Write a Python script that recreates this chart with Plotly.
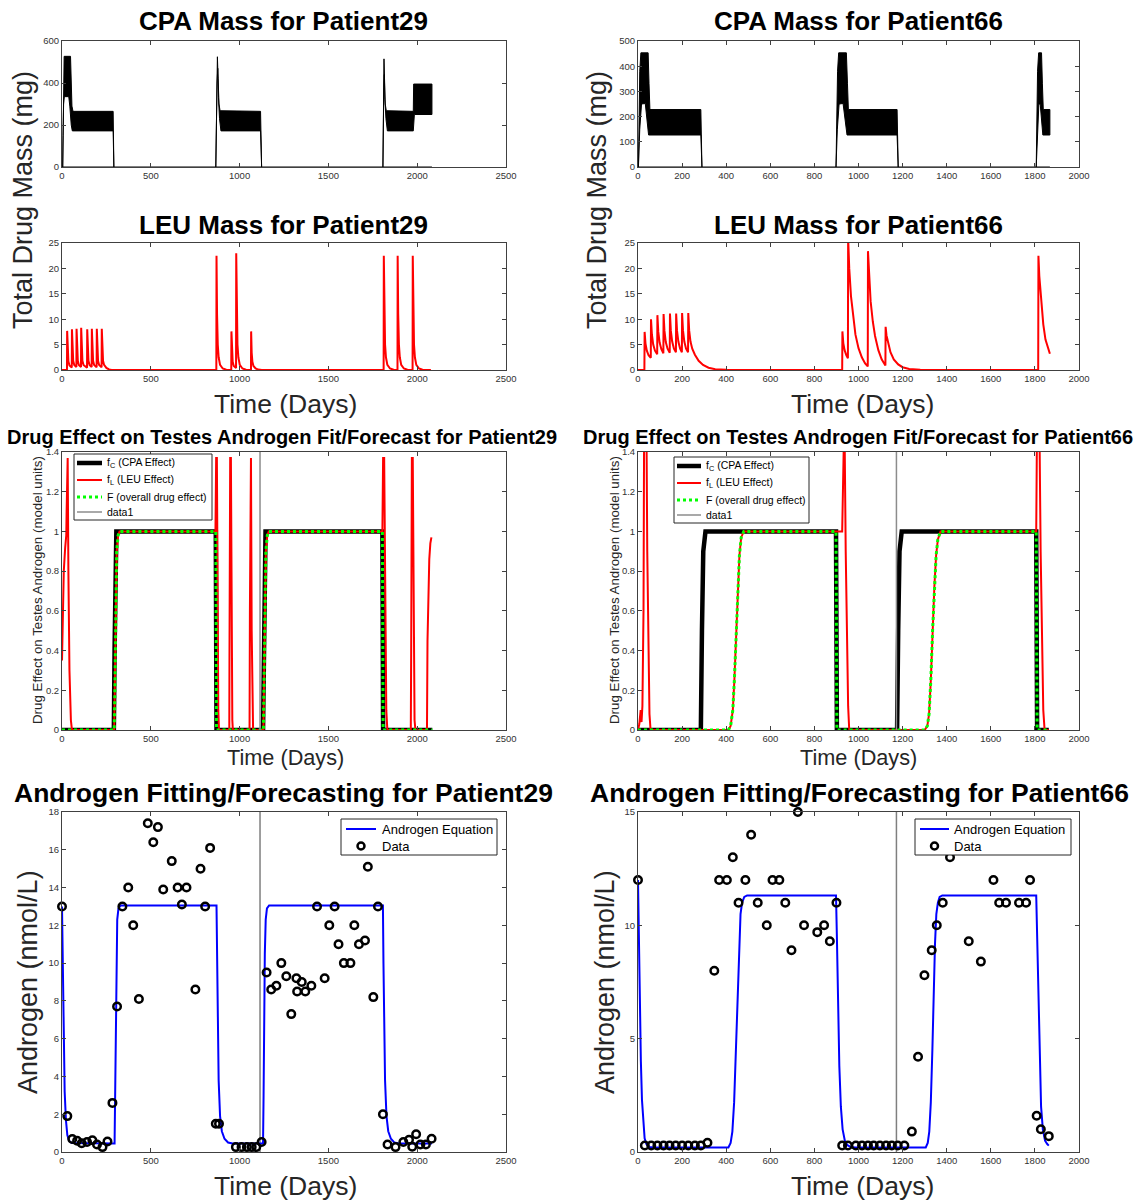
import plotly.graph_objects as go

FONT = "Liberation Sans, Arial, Helvetica, sans-serif"
W, H = 1136, 1203
AXC = "#404040"
TXC = "#333333"

# ---------------- CPA mass bands (upper / lower envelopes) ----------------
cpa29_c1_up_t = [4, 8, 12, 48, 52, 56, 62, 288, 292]
cpa29_c1_up_m = [0, 450, 527, 527, 400, 290, 265, 265, 0]
cpa29_c1_lo_t = [4, 6, 9, 13, 38, 44, 52, 58, 288, 292]
cpa29_c1_lo_m = [0, 150, 300, 335, 335, 290, 200, 172, 172, 0]
cpa29_c2_up_t = [866, 871, 875, 879, 884, 890, 1118, 1124]
cpa29_c2_up_m = [0, 420, 525, 420, 300, 268, 265, 0]
cpa29_c2_lo_t = [866, 873, 877, 881, 887, 895, 1118, 1124]
cpa29_c2_lo_m = [0, 400, 470, 330, 230, 172, 172, 0]
cpa29_c3_up_t = [1807, 1811, 1813, 1816, 1820, 1826, 1978, 1980, 2083]
cpa29_c3_up_m = [0, 400, 515, 420, 300, 268, 265, 395, 395]
cpa29_c3_lo_t = [1807, 1812, 1815, 1818, 1824, 1832, 1978, 1984, 2083]
cpa29_c3_lo_m = [0, 380, 440, 320, 230, 172, 172, 250, 250]
cpa29_base_t = [0, 2083]
cpa29_base_m = [0, 0]

cpa66_c1_up_t = [2, 8, 13, 46, 50, 54, 285, 290]
cpa66_c1_up_m = [0, 380, 453, 453, 330, 228, 228, 0]
cpa66_c1_lo_t = [2, 8, 16, 33, 40, 48, 285, 290]
cpa66_c1_lo_m = [0, 150, 250, 252, 200, 127, 127, 0]
cpa66_c2_up_t = [898, 905, 910, 945, 950, 954, 1175, 1180]
cpa66_c2_up_m = [0, 380, 453, 453, 330, 228, 228, 0]
cpa66_c2_lo_t = [898, 904, 912, 930, 938, 948, 1175, 1180]
cpa66_c2_lo_m = [0, 150, 250, 252, 200, 127, 127, 0]
cpa66_c3_up_t = [1806, 1812, 1817, 1830, 1834, 1838, 1868]
cpa66_c3_up_m = [0, 380, 453, 453, 330, 228, 228]
cpa66_c3_lo_t = [1806, 1812, 1818, 1824, 1830, 1836, 1868]
cpa66_c3_lo_m = [0, 150, 250, 250, 180, 127, 127]
cpa66_base_t = [0, 1868]
cpa66_base_m = [0, 0]

# ---------------- LEU mass ----------------
leu29_t = [0, 28, 29, 32, 36, 42, 55,
           56, 59, 63, 69, 81,
           82, 85, 89, 95, 107,
           108, 111, 115, 121, 141,
           142, 145, 149, 155, 167,
           168, 171, 175, 181, 195,
           196, 199, 203, 209, 223,
           224, 227, 231, 237, 250, 265, 280,
           869, 870, 873, 877, 882, 890, 905, 925, 953,
           954, 957, 961, 967, 980,
           981, 984, 988, 993, 1001, 1016, 1036, 1064,
           1065, 1068, 1072, 1078, 1090, 1105, 1125,
           1811, 1812, 1815, 1819, 1824, 1832, 1847, 1867, 1889,
           1890, 1893, 1897, 1902, 1910, 1925, 1945, 1974,
           1975, 1978, 1982, 1987, 1995, 2010, 2030, 2050, 2077]
leu29_m = [0, 0, 7.7, 3.5, 1.7, 0.9, 0.5,
           8.0, 3.6, 1.8, 1.0, 0.6,
           8.1, 3.7, 1.8, 1.0, 0.6,
           8.3, 3.7, 1.8, 1.0, 0.45,
           8.0, 3.6, 1.8, 1.0, 0.6,
           8.1, 3.7, 1.8, 1.0, 0.55,
           8.1, 3.7, 1.8, 1.0, 0.55,
           8.1, 3.7, 1.8, 1.0, 0.4, 0.1, 0,
           0, 22.5, 11, 5, 2.5, 1.0, 0.3, 0.05, 0.02,
           7.6, 3.4, 1.6, 0.8, 0.4,
           23.0, 11, 5, 2.5, 1.0, 0.3, 0.05, 0,
           7.6, 3.4, 1.6, 0.8, 0.3, 0.08, 0,
           0, 22.5, 11, 5, 2.5, 1.0, 0.3, 0.05, 0.01,
           22.5, 11, 5, 2.5, 1.0, 0.3, 0.05, 0.01,
           22.5, 11, 5, 2.5, 1.0, 0.3, 0.05, 0, 0]

leu66_t = [0, 29, 30, 34, 40, 48, 58,
           59, 63, 69, 77, 87,
           88, 92, 98, 106, 115,
           116, 120, 126, 134, 144,
           145, 149, 155, 163, 172,
           173, 177, 183, 191, 199,
           200, 204, 210, 218, 227,
           228, 232, 238, 246, 258, 275, 295, 320, 350, 400, 450,
           926, 927, 931, 937, 945, 952,
           953, 958, 966, 976, 986, 1000, 1015, 1030, 1042,
           1043, 1047, 1055, 1065, 1075, 1090, 1105, 1122,
           1123, 1127, 1135, 1145, 1160, 1180, 1200, 1230, 1280, 1320,
           1815, 1816, 1820, 1828, 1838, 1848, 1858, 1868]
leu66_m = [0, 0, 7.5, 5.2, 3.8, 2.9, 2.4,
           10.0, 7.0, 5.0, 3.8, 3.1,
           10.8, 7.5, 5.4, 4.1, 3.3,
           11.0, 7.7, 5.5, 4.2, 3.4,
           11.1, 7.7, 5.6, 4.2, 3.5,
           11.1, 7.7, 5.6, 4.2, 3.5,
           11.2, 7.8, 5.6, 4.2, 3.5,
           11.2, 7.8, 5.6, 4.2, 3.0, 1.8, 1.0, 0.45, 0.15, 0.03, 0,
           0, 7.6, 5.3, 3.9, 2.9, 2.3,
           26.0, 20.0, 14.5, 10.0, 7.0, 4.3, 2.5, 1.3, 0.7,
           23.4, 19.0, 13.5, 9.5, 6.7, 3.9, 2.1, 0.9,
           8.5, 6.8, 5.0, 3.5, 2.1, 1.1, 0.55, 0.2, 0.03, 0,
           0, 22.5, 18.5, 13.5, 9.0, 6.0, 4.3, 3.2]

# ---------------- Drug effects ----------------
fc29_t = [0, 292, 296, 300, 306, 866, 870, 1132, 1136, 1140, 1146, 1804, 1808, 2085]
fc29_v = [0, 0, 0.4, 0.85, 1, 1, 0, 0, 0.5, 0.9, 1, 1, 0, 0]
F29_t = [0, 294, 298, 302, 308, 316, 324, 866, 870, 1134, 1138, 1142, 1148, 1156, 1164, 1804, 1808, 2085]
F29_v = [0, 0, 0.2, 0.6, 0.9, 0.98, 1, 1, 0, 0, 0.2, 0.6, 0.9, 0.98, 1, 1, 0, 0]
fl29_t = [0, 4, 10, 18, 24, 26, 28, 32, 36, 42, 50, 56,
          294, 298, 302, 308, 316, 324, 864, 866, 868, 872, 876, 880, 884,
          942, 943, 945, 947, 951, 955, 959, 962,
          1056, 1058, 1060, 1064, 1068, 1072, 1076,
          1134, 1138, 1142, 1148, 1156, 1164, 1804, 1806, 1808, 1814, 1820, 1826, 1832,
          1964, 1966, 1968, 1970, 1975, 1980, 1985, 1990,
          2055, 2058, 2062, 2068, 2074, 2080]
fl29_v = [0.35, 0.6, 0.8, 0.92, 0.98, 1.1, 1.37, 1.37, 0.8, 0.3, 0.05, 0,
          0, 0.2, 0.6, 0.9, 0.98, 1, 1, 1.2, 1.37, 1.37, 0.6, 0.1, 0,
          0, 0.38, 1.0, 1.37, 1.37, 0.5, 0.05, 0,
          0, 0.6, 1.37, 1.37, 0.5, 0.05, 0,
          0, 0.2, 0.6, 0.9, 0.98, 1, 1, 1.2, 1.37, 1.37, 0.6, 0.1, 0,
          0, 0.38, 1.0, 1.37, 1.37, 0.5, 0.05, 0,
          0, 0.45, 0.7, 0.86, 0.94, 0.97]
split29 = 1115

fc66_t = [0, 285, 290, 296, 306, 898, 902, 1175, 1180, 1186, 1196, 1806, 1810, 1863]
fc66_v = [0, 0, 0.5, 0.9, 1, 1, 0, 0, 0.5, 0.9, 1, 1, 0, 0]
F66_t = [0, 410, 420, 430, 437, 445, 453, 460, 468, 480, 898, 902,
         1300, 1312, 1320, 1328, 1336, 1344, 1352, 1360, 1372, 1806, 1810, 1863]
F66_v = [0, 0, 0.02, 0.1, 0.25, 0.48, 0.72, 0.88, 0.97, 1, 1, 0,
         0, 0.02, 0.08, 0.25, 0.5, 0.72, 0.88, 0.96, 1, 1, 0, 0]
fl66_t = [0, 6, 12, 16, 20, 25, 28, 38, 42, 47, 52, 57,
          410, 420, 430, 437, 445, 453, 460, 468, 480, 926, 929, 936, 942, 948, 953, 958,
          1300, 1312, 1320, 1328, 1336, 1344, 1352, 1360, 1372, 1806, 1810, 1820, 1826, 1832, 1838, 1844, 1863]
fl66_v = [0, 0.03, 0.1, 0.04, 0.12, 0.6, 1.6, 1.6, 0.9, 0.35, 0.08, 0,
          0, 0.02, 0.1, 0.25, 0.48, 0.72, 0.88, 0.97, 1, 1, 1.6, 1.6, 0.9, 0.4, 0.12, 0,
          0, 0.02, 0.08, 0.25, 0.5, 0.72, 0.88, 0.96, 1, 1, 1.6, 1.6, 0.9, 0.4, 0.1, 0, 0]
split66 = 1172

# ---------------- Androgen ----------------
and29_t = [0, 5, 10, 15, 22, 30, 40, 55, 296, 299, 302, 306, 311, 318, 330, 870, 873, 877, 882, 890,
           900, 915, 935, 960, 1132, 1135, 1138, 1142, 1147, 1154, 1166, 1807, 1810, 1814, 1819, 1827,
           1837, 1852, 1872, 1897, 2083]
and29_v = [13, 9, 5.5, 3.2, 1.7, 0.9, 0.6, 0.47, 0.45, 3, 7, 10.5, 12.3, 12.9, 13.05, 13.05, 10, 6.5, 3.8, 1.9,
           1.1, 0.7, 0.5, 0.45, 0.45, 3, 7, 10.5, 12.3, 12.9, 13.05, 13.05, 10, 6.5, 3.8, 1.9,
           1.1, 0.7, 0.5, 0.45, 0.45]
and29_dt = [0, 30, 58, 85, 111, 141, 171, 197, 228, 256, 284, 310, 340, 373, 401, 433, 483, 514, 540, 570,
            618, 651, 675, 701, 751, 780, 806, 834, 866, 884, 979, 1011, 1041, 1068, 1094, 1124, 1152, 1178,
            1207, 1235, 1263, 1291, 1320, 1324, 1350, 1370, 1404, 1436, 1479, 1505, 1535, 1557, 1587, 1624,
            1646, 1672, 1706, 1722, 1753, 1779, 1807, 1833, 1878, 1922, 1954, 1972, 1994, 2018, 2049, 2081]
and29_dv = [13.0, 1.9, 0.69, 0.6, 0.46, 0.53, 0.62, 0.4, 0.26, 0.56, 2.6, 7.7, 13.0, 14.0, 12.0, 8.1, 17.4,
            16.4, 17.2, 13.9, 15.4, 14.0, 13.1, 14.0, 8.6, 15.0, 13.0, 16.1, 1.5, 1.5, 0.26, 0.26, 0.26, 0.26,
            0.26, 0.53, 9.5, 8.6, 8.8, 10.0, 9.3, 7.3, 9.2, 8.5, 9.0, 8.5, 8.8, 13.0, 9.2, 12.0, 13.0, 11.0,
            10.0, 10.0, 12.0, 11.0, 11.2, 15.1, 8.2, 13.0, 2.0, 0.4, 0.26, 0.53, 0.65, 0.28, 0.94, 0.4, 0.4, 0.7]

and66_t = [0, 4, 8, 13, 18, 24, 30, 38, 50, 70, 410, 420, 428, 436, 444, 451, 458, 465, 472, 482, 495,
           898, 902, 907, 913, 920, 928, 938, 950, 965, 985, 1305, 1314, 1321, 1328, 1335, 1341, 1347, 1353,
           1360, 1368, 1380, 1806, 1810, 1815, 1821, 1828, 1836, 1846, 1856, 1863]
and66_v = [12, 9, 6.5, 4, 2.3, 1.2, 0.6, 0.35, 0.22, 0.2, 0.2, 0.4, 0.9, 2.2, 4.5, 7, 9.2, 10.5, 11.0, 11.25,
           11.32, 11.32, 9.5, 6.5, 3.8, 2, 1, 0.5, 0.3, 0.22, 0.2, 0.2, 0.4, 0.9, 2.2, 4.5, 7, 9.2, 10.5,
           11.0, 11.25, 11.32, 11.32, 9.5, 6.5, 3.8, 2, 1, 0.5, 0.35, 0.28]
and66_dt = [0, 31, 60, 88, 116, 143, 171, 200, 228, 258, 285, 315, 346, 368, 403, 430, 456, 487, 513, 543,
            584, 610, 641, 668, 696, 725, 753, 813, 844, 870, 900, 926, 952, 988, 1016, 1043, 1069, 1097,
            1125, 1151, 1178, 1208, 1242, 1270, 1299, 1332, 1355, 1382, 1415, 1500, 1555, 1612, 1638, 1669,
            1728, 1760, 1778, 1808, 1827, 1863]
and66_dv = [12.0, 0.29, 0.29, 0.29, 0.29, 0.29, 0.29, 0.29, 0.29, 0.29, 0.29, 0.41, 8.0, 12.0, 12.0, 13.0,
            11.0, 12.0, 14.0, 11.0, 10.0, 12.0, 12.0, 11.0, 8.9, 15.0, 10.0, 9.7, 10.0, 9.3, 11.0, 0.29, 0.29,
            0.29, 0.29, 0.29, 0.29, 0.29, 0.29, 0.29, 0.29, 0.29, 0.9, 4.2, 7.8, 8.9, 10.0, 11.0, 13.0, 9.3,
            8.4, 12.0, 11.0, 11.0, 11.0, 11.0, 12.0, 1.6, 1.0, 0.7]

titles = ["CPA Mass for Patient29", "CPA Mass for Patient66",
          "LEU Mass for Patient29", "LEU Mass for Patient66",
          "Drug Effect on Testes Androgen Fit/Forecast for Patient29",
          "Drug Effect on Testes Androgen Fit/Forecast for Patient66",
          "Androgen Fitting/Forecasting for Patient29", "Androgen Fitting/Forecasting for Patient66"]
drug_legend = ["f<sub>C</sub> (CPA Effect)", "f<sub>L</sub> (LEU Effect)", "F (overall drug effect)", "data1"]
andr_legend = ["Androgen Equation", "Data"]

# ---------------- figure ----------------
fig = go.Figure()


def axn(n):
    return ("x" if n == 1 else "x%d" % n), ("y" if n == 1 else "y%d" % n)


def band(n, ut, um, lt, lm):
    xa, ya = axn(n)
    fig.add_trace(go.Scatter(x=ut + lt[::-1], y=um + lm[::-1], mode="lines", fill="toself",
                             fillcolor="black", line=dict(color="black", width=1),
                             showlegend=False, hoverinfo="skip", xaxis=xa, yaxis=ya))


def line(n, x, y, color, width, dash="solid"):
    xa, ya = axn(n)
    fig.add_trace(go.Scatter(x=x, y=y, mode="lines", line=dict(color=color, width=width, dash=dash),
                             showlegend=False, xaxis=xa, yaxis=ya))


# CPA
line(1, cpa29_base_t, cpa29_base_m, "black", 1)
band(1, cpa29_c1_up_t, cpa29_c1_up_m, cpa29_c1_lo_t, cpa29_c1_lo_m)
band(1, cpa29_c2_up_t, cpa29_c2_up_m, cpa29_c2_lo_t, cpa29_c2_lo_m)
band(1, cpa29_c3_up_t, cpa29_c3_up_m, cpa29_c3_lo_t, cpa29_c3_lo_m)
line(2, cpa66_base_t, cpa66_base_m, "black", 1)
band(2, cpa66_c1_up_t, cpa66_c1_up_m, cpa66_c1_lo_t, cpa66_c1_lo_m)
band(2, cpa66_c2_up_t, cpa66_c2_up_m, cpa66_c2_lo_t, cpa66_c2_lo_m)
band(2, cpa66_c3_up_t, cpa66_c3_up_m, cpa66_c3_lo_t, cpa66_c3_lo_m)

# LEU
line(3, leu29_t, leu29_m, "#ff0000", 2)
line(4, leu66_t, leu66_m, "#ff0000", 2)

# Drug effects
DRUG_STY = [("black", 4.5, "solid"), ("#ff0000", 2, "solid"), ("#00ff00", 3, "dot"), ("#8c8c8c", 1.5, "solid")]
for n, ft, fv, lt_, lv, Ft, Fv, sp in [(5, fc29_t, fc29_v, fl29_t, fl29_v, F29_t, F29_v, split29),
                                       (6, fc66_t, fc66_v, fl66_t, fl66_v, F66_t, F66_v, split66)]:
    line(n, ft, fv, *DRUG_STY[0])
    line(n, lt_, lv, *DRUG_STY[1])
    line(n, Ft, Fv, *DRUG_STY[2])
    line(n, [sp, sp], [0, 1.4], *DRUG_STY[3])

# Androgen
for n, t, v, dt, dv, sp, top in [(7, and29_t, and29_v, and29_dt, and29_dv, split29, 18),
                                 (8, and66_t, and66_v, and66_dt, and66_dv, split66, 15)]:
    xa, ya = axn(n)
    line(n, [sp, sp], [0, top], "#7f7f7f", 1.5)
    line(n, t, v, "#0000ff", 2)
    fig.add_trace(go.Scatter(x=dt, y=dv, mode="markers", showlegend=False,
                             marker=dict(symbol="circle-open", size=7.5, color="black",
                                         line=dict(width=2.5, color="black")),
                             cliponaxis=False, xaxis=xa, yaxis=ya))

# ---------------- axes ----------------
LC = [62 / W, 506 / W]
RC = [638 / W, 1079 / W]


def ydom(top, bot):
    return [1 - bot / H, 1 - top / H]


ROWS = [ydom(41, 167), ydom(243, 370), ydom(452, 730), ydom(812, 1152)]

specs = [  # n, col, row, xrange, xdtick, yrange, ydtick
    (1, LC, 0, [0, 2500], 500, [0, 600], 200),
    (2, RC, 0, [0, 2000], 200, [0, 500], 100),
    (3, LC, 1, [0, 2500], 500, [0, 25], 5),
    (4, RC, 1, [0, 2000], 200, [0, 25], 5),
    (5, LC, 2, [0, 2500], 500, [0, 1.4], 0.2),
    (6, RC, 2, [0, 2000], 200, [0, 1.4], 0.2),
    (7, LC, 3, [0, 2500], 500, [0, 18], 2),
    (8, RC, 3, [0, 2000], 200, [0, 15], 5),
]

common = dict(showline=True, mirror="ticks", linecolor=AXC, linewidth=1, ticks="inside", ticklen=4,
              tickcolor=AXC, tickwidth=1, tickfont=dict(size=9.5, color=TXC, family=FONT),
              showgrid=False, zeroline=False, fixedrange=True, tickmode="linear", tick0=0)

layout_axes = {}
for n, col, r, xr, xd, yr, yd in specs:
    xa, ya = axn(n)
    xk = "xaxis" if n == 1 else "xaxis%d" % n
    yk = "yaxis" if n == 1 else "yaxis%d" % n
    layout_axes[xk] = dict(domain=col, anchor=ya, range=xr, dtick=xd, **common)
    layout_axes[yk] = dict(domain=ROWS[r], anchor=xa, range=yr, dtick=yd, **common)

# ---------------- annotations / legends ----------------
ann = []
shapes = []


def px(x):
    return x / W


def py(y):
    return 1 - y / H


def text(x, y, s, size, bold=False, angle=0, color="black", anchor="center"):
    f = dict(size=size, family=FONT, color=color)
    if bold:
        f["weight"] = "bold"
    ann.append(dict(x=px(x), y=py(y), xref="paper", yref="paper", text=s,
                    showarrow=False, xanchor=anchor, yanchor="middle", textangle=angle, font=f))


text(283, 21, titles[0], 26, True)
text(858, 21, titles[1], 26, True)
text(283, 225, titles[2], 26, True)
text(858, 225, titles[3], 26, True)
text(282, 437, titles[4], 20, True)
text(858, 437, titles[5], 20, True)
text(283, 793, titles[6], 26.5, True)
text(859, 793, titles[7], 26.5, True)

LAB = "#262626"
text(23, 200, "Total Drug Mass (mg)", 27, angle=-90, color=LAB)
text(597, 200, "Total Drug Mass (mg)", 27, angle=-90, color=LAB)
text(285, 404, "Time (Days)", 26.5, color=LAB)
text(862, 404, "Time (Days)", 26.5, color=LAB)
text(37, 590, "Drug Effect on Testes Androgen (model units)", 13.3, angle=-90, color=LAB)
text(614, 590, "Drug Effect on Testes Androgen (model units)", 13.3, angle=-90, color=LAB)
text(285, 757, "Time (Days)", 21.7, color=LAB)
text(858, 757, "Time (Days)", 21.7, color=LAB)
text(28, 982, "Androgen (nmol/L)", 27, angle=-90, color=LAB)
text(605, 982, "Androgen (nmol/L)", 27, angle=-90, color=LAB)
text(285, 1186, "Time (Days)", 26.5, color=LAB)
text(862, 1186, "Time (Days)", 26.5, color=LAB)


def box(x0, y0, x1, y1):
    shapes.append(dict(type="rect", xref="paper", yref="paper", x0=px(x0), x1=px(x1), y0=py(y1), y1=py(y0),
                       fillcolor="white", line=dict(color="#262626", width=1), layer="above"))


def seg(x0, x1, y, color, width, dash="solid"):
    shapes.append(dict(type="line", xref="paper", yref="paper", x0=px(x0), x1=px(x1), y0=py(y), y1=py(y),
                       line=dict(color=color, width=width, dash=dash), layer="above"))


# drug-effect legends
for bx0, bx1, by0, by1, sx0, sx1, tx, rows_y in [
        (74, 212, 454, 520, 77, 102, 105, [463, 480, 497, 512]),
        (674, 809, 457, 523, 677, 701, 704, [466, 483, 500, 515])]:
    box(bx0, by0, bx1, by1)
    for (c, w, d), lab, yy in zip(DRUG_STY, drug_legend, rows_y):
        seg(sx0, sx1, yy, c, w, d)
        text(tx, yy, lab, 10.5, anchor="left")

# androgen legends
for bx0, bx1, sx0, sx1, tx in [(341, 497, 346, 376, 380), (915, 1071, 920, 949, 952)]:
    box(bx0, 819, bx1, 855)
    seg(sx0, sx1, 829, "#0000ff", 2)
    text(tx, 829, andr_legend[0], 13, anchor="left")
    cx = (sx0 + sx1) / 2
    shapes.append(dict(type="circle", xref="paper", yref="paper", x0=px(cx - 3.5), x1=px(cx + 3.5),
                       y0=py(849.5), y1=py(842.5), line=dict(color="black", width=2.5), layer="above"))
    text(tx, 846, andr_legend[1], 13, anchor="left")

fig.update_layout(
    width=W, height=H, margin=dict(l=0, r=0, t=0, b=0, autoexpand=False),
    paper_bgcolor="white", plot_bgcolor="white", showlegend=False,
    font=dict(family=FONT, color="black"),
    annotations=ann, shapes=shapes,
    **layout_axes,
)

fig.write_html("out.html")
